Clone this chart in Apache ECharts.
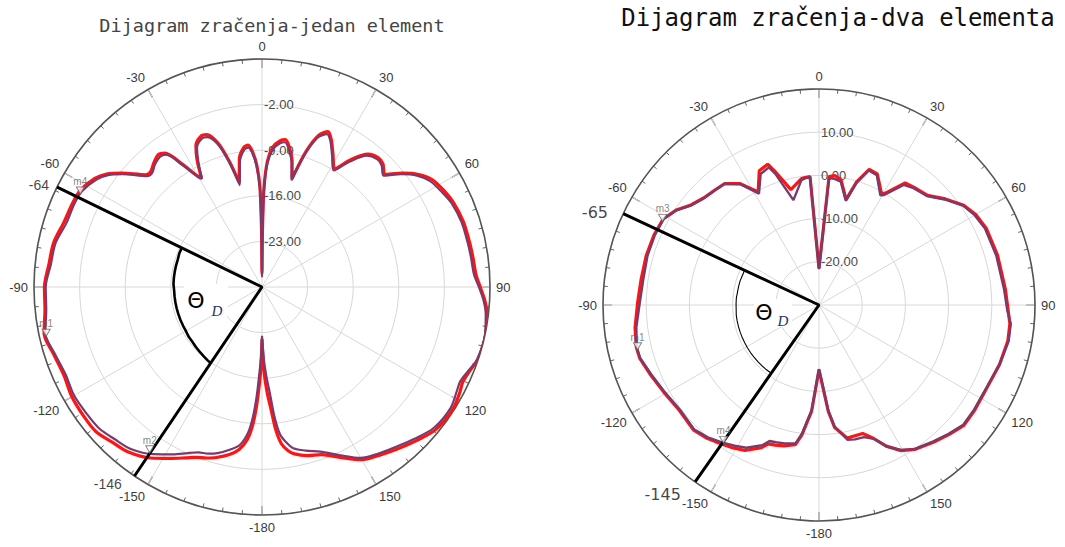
<!DOCTYPE html>
<html><head><meta charset="utf-8">
<script src="https://cdn.jsdelivr.net/npm/echarts@6/dist/echarts.min.js"></script>
<style>html,body{margin:0;padding:0;background:#fff}#c{width:1065px;height:547px}</style>
</head><body><div id="c"></div>
<script>
// ---------- DATA ----------
const titleLeft = 'Dijagram zračenja-jedan element';
const titleRight = 'Dijagram zračenja-dva elementa';

const leftRadialTicks = [-23, -16, -9, -2];
const rightRadialTicks = [-20, -10, 0, 10];

const leftAngles = [
  -180, -179.3, -178.6, -177.3, -176, -174.5, -172, -169, -165, -162,
  -159, -156, -152, -147, -141, -136, -131, -126, -120, -114,
  -108, -102, -96, -90, -84, -78, -72, -66, -62, -57,
  -54, -51, -46, -44, -41, -38, -36, -33, -30, -29,
  -27, -25, -22, -20, -17, -14.5, -12.3, -10, -7.5, -5.6,
  -4, -2.5, -1.2, -0.5, 0, 0.5, 1.2, 2.5, 4.5, 7,
  9, 11, 13.5, 15.5, 18, 20.5, 23, 25, 28, 31.6,
  35, 38.6, 42, 44.5, 47.5, 51, 54.3, 57.8, 62, 66,
  72, 78, 82, 86.6, 90, 93.6, 97, 101.9, 105, 109,
  112, 115.4, 118, 122.7, 129.4, 135, 140.7, 145, 150, 155,
  160.5, 165, 169, 171, 173, 174.5, 175.7, 177.3, 178.6, 180
];
const leftPurple = [
  -22.5, -19.5, -17.7, -13.5, -10, -7.5, -5.5, -4.6, -3.6, -3.1,
  -2.8, -2.1, -0.9, 0.6, 2.0, 2.5, 3.1, 3.2, 3.3, 3.0,
  3.4, 4.0, 3.3, 3.2, 2.6, 2.4, 1.6, 1.5, 1.3, 0.3,
  -0.8, -2.5, -5.5, -5.7, -5.0, -4.6, -4.9, -7.8, -10.6, -11,
  -8.5, -6.4, -5.4, -5.5, -7.2, -10.5, -14, -10.5, -8.8, -8.5,
  -9.5, -11.5, -15, -22, -28.5, -22, -15, -11, -8.8, -7.8,
  -7.5, -8.5, -10.5, -13, -8.5, -5.5, -4.5, -5.2, -7.1, -9,
  -6.5, -4.2, -3.6, -3.8, -4.7, -2.5, -0.7, 0.5, 1.2, 1.8,
  2.2, 2.3, 2.4, 2.6, 3.3, 4.1, 4.6, 5.0, 5.0, 4.8,
  4.2, 3.7, 3.9, 4.4, 4.1, 3.0, 1.9, 1.2, 0.3, -1.5,
  -3.2, -4.0, -4.8, -5.8, -7.2, -10, -13.5, -16.5, -19, -22.5
];
const leftRed = [
  -22, -18, -15.5, -11.5, -8.5, -6.5, -4.8, -3.8, -2.9, -2.4,
  -2.0, -1.3, -0.2, 1.3, 2.6, 3.1, 3.8, 3.8, 3.7, 3.3,
  3.6, 4.2, 3.5, 3.4, 2.9, 2.7, 2.0, 1.8, 1.6, 0.6,
  -0.5, -2.2, -5.2, -5.4, -4.7, -4.2, -4.6, -7.5, -10.4, -10.8,
  -8.0, -6.0, -5.0, -5.1, -6.9, -10.2, -13.6, -10.0, -8.4, -8.1,
  -9.2, -11.2, -14.6, -21, -28, -21, -14.6, -10.6, -8.4, -7.4,
  -7.1, -8.1, -10.2, -12.7, -8.1, -5.1, -4.1, -4.9, -6.8, -8.7,
  -6.1, -3.9, -3.3, -3.5, -4.4, -2.2, -0.4, 0.9, 1.6, 2.1,
  2.5, 2.6, 2.7, 2.9, 3.5, 4.3, 4.8, 5.1, 5.1, 4.9,
  4.4, 4.1, 4.4, 4.8, 4.5, 3.4, 2.3, 1.5, 0.6, -1.1,
  -2.7, -3.2, -3.9, -4.6, -5.8, -8, -11, -14, -17, -22
];

const rightAngles = [
  -180, -176, -172.5, -170.4, -166, -162.6, -160, -158, -153, -149,
  -145, -140, -135, -127, -119.4, -112.6, -106.5, -103, -97, -89.4,
  -81.7, -74, -67, -61, -56.4, -52, -47, -42, -37.8, -33,
  -28.3, -24, -20, -18.4, -13.7, -8, -6.3, -4, 0, 4.5,
  7, 10, 14.4, 17, 20.3, 24, 29.2, 30.6, 35.2, 39,
  44.7, 50, 55.4, 60, 65.3, 74.4, 85.2, 91.6, 95.6, 100.8,
  108.2, 117.6, 124, 129.7, 134.8, 140, 146.5, 150.6, 154.5, 157.7,
  161.2, 165, 168, 172.7, 175, 180
];
const rightPurple = [
  -15.2, -5.5, 0, 2.5, 3.0, 3.3, 3.5, 5.0, 7.1, 8.0,
  8.9, 10.0, 10.8, 10.3, 11.0, 12.0, 13.2, 13.3, 12.6, 11.5,
  11.1, 11.3, 11.3, 11.1, 9.6, 7.5, 6.3, 5.8, 5.5, 3.3,
  -0.7, 3.2, 3.9, 2.0, -5.0, -0.8, -0.5, -0.3, -21.7, -0.5,
  -0.6, -1.0, -5.1, -0.5, 3.2, 2.9, -0.9, -0.4, 4.0, 4.8,
  5.5, 8.0, 10.5, 11.6, 12.3, 12.6, 13.0, 13.6, 14.6, 14.7,
  14.0, 13.2, 13.3, 13.4, 12.3, 11.2, 10.0, 8.5, 6.3, 3.5,
  2.3, 2.2, 1.9, -1.6, -5.5, -15.2
];
const rightRed = [
  -15.0, -5.3, 0.3, 2.8, 3.6, 4.0, 4.2, 5.6, 7.8, 8.6,
  9.3, 10.3, 11.0, 10.5, 11.2, 12.2, 13.3, 13.4, 12.9, 12.0,
  11.6, 11.6, 11.5, 11.2, 9.7, 7.6, 6.4, 5.9, 5.6, 3.5,
  -0.3, 4.0, 4.7, 2.8, -2.5, -0.5, -0.3, -0.2, -21.5, -0.2,
  0.2, -0.6, -4.8, -0.2, 3.5, 3.2, -0.4, 0, 4.6, 5.0,
  5.7, 8.2, 10.7, 11.9, 12.6, 12.9, 13.3, 13.8, 14.4, 14.5,
  14.0, 13.3, 13.5, 13.6, 12.5, 11.4, 10.1, 8.7, 6.2, 3.4,
  1.4, 1.4, 1.5, -1.4, -5.3, -15.0
];

const leftBeamAngles = [-64, -146];
const rightBeamAngles = [-65, -145];

const leftArcAngles = [-64, -68, -72, -76, -80, -84, -88, -92, -96, -100, -104, -108, -112, -116, -120, -124, -128, -132, -136, -140, -143, -146];
const leftArcValues = [-16.3, -16.3, -16.4, -16.4, -16.4, -16.4, -16.4, -16.5, -16.5, -16.5, -16.5, -16.5, -16.5, -16.5, -16.5, -16.4, -16.4, -16.3, -16.2, -16.1, -16.0, -15.9];
const rightArcAngles = [-65, -69, -73, -77, -81, -85, -89, -93, -97, -101, -105, -109, -113, -117, -121, -125, -129, -133, -137, -141, -145];
const rightArcValues = [-11.0, -11.0, -10.9, -10.9, -10.9, -10.8, -10.8, -10.8, -10.7, -10.7, -10.7, -10.7, -10.7, -10.7, -10.7, -10.7, -10.7, -10.7, -10.7, -10.7, -10.7];

const leftMarkerNames = ['m4', 'm1', 'm2'];
const leftMarkerAngles = [-63, -103, -146];
const leftMarkerValues = [1.3, 4.0, 0.8];
const rightMarkerNames = ['m3', 'm1', 'm4'];
const rightMarkerAngles = [-62, -104, -145.5];
const rightMarkerValues = [11.0, 13.3, 9.0];

// ---------- BUILD ----------
const toAxis = a => (a < 0 ? a + 360 : a);
const pairs = (vals, angs) => angs.map((a, i) => [vals[i], toAxis(a)]);

const LEFT = { min: -30, max: 5, interval: 7 };
const RIGHT = { min: -30, max: 20, interval: 10 };

function angleAxisCfg(idx) {
  return {
    polarIndex: idx, type: 'value', min: 0, max: 360, interval: 30,
    startAngle: 90, clockwise: true,
    axisLine: { show: true, lineStyle: { color: '#555', width: 1.6 } },
    axisTick: { show: true, inside: true, length: 9, lineStyle: { color: '#555', width: 1.2 } },
    minorTick: { show: true, splitNumber: 6, length: 4, lineStyle: { color: '#666', width: 1 } },
    axisLabel: {
      show: true, margin: 6, color: '#3a3a3a', fontSize: 13, fontFamily: 'Liberation Sans',
      formatter: v => (v === 360 ? '' : String(v >= 180 ? v - 360 : v))
    },
    splitLine: { show: true, lineStyle: { color: '#d8d8d8', width: 1 } }
  };
}
function radiusAxisCfg(idx, cfg, ticks) {
  return {
    polarIndex: idx, type: 'value', min: cfg.min, max: cfg.max, interval: cfg.interval,
    axisLine: { show: false }, axisTick: { show: false },
    axisLabel: {
      show: true, margin: -2, align: 'left', color: '#4a4a4a', fontSize: 13, fontFamily: 'Liberation Sans',
      formatter: v => (ticks.indexOf(v) >= 0 ? v.toFixed(2) : '')
    },
    splitLine: { show: true, lineStyle: { color: '#d8d8d8', width: 1 } }
  };
}
function curve(idx, vals, angs, color, width, z, smooth) {
  return {
    type: 'line', coordinateSystem: 'polar', polarIndex: idx, data: pairs(vals, angs),
    symbol: 'none', showSymbol: false, silent: true, z: z, smooth: smooth,
    lineStyle: { color: color, width: width }
  };
}
function beam(idx, angs, rmax, rmin) {
  return {
    type: 'line', coordinateSystem: 'polar', polarIndex: idx, clip: false,
    data: [[rmax, toAxis(angs[0])], [rmin, 0], [rmax, toAxis(angs[1])]],
    symbol: 'none', silent: true, z: 8, lineStyle: { color: '#000', width: 3 }
  };
}
function beamLabels(idx, angs, rmax, fontSize, fontFamily, offsets) {
  return {
    type: 'scatter', coordinateSystem: 'polar', polarIndex: idx, clip: false, symbolSize: 1,
    itemStyle: { color: 'rgba(0,0,0,0)' }, silent: true, z: 9,
    data: angs.map((a, i) => ({ value: [rmax, toAxis(a)], label: { offset: offsets[i] } })),
    label: {
      show: true, position: 'left', distance: 4, color: '#111', fontSize: fontSize, fontFamily: fontFamily,
      formatter: p => String(angs[p.dataIndex])
    }
  };
}
function arc(idx, vals, angs, width) {
  return {
    type: 'line', coordinateSystem: 'polar', polarIndex: idx, data: pairs(vals, angs),
    symbol: 'none', silent: true, z: 7, lineStyle: { color: '#000', width: width }
  };
}
function markers(idx, names, angs, vals) {
  return {
    type: 'scatter', coordinateSystem: 'polar', polarIndex: idx, silent: true, z: 10,
    data: names.map((n, i) => ({ name: n, value: [vals[i], toAxis(angs[i])] })),
    symbol: 'triangle', symbolRotate: 180, symbolSize: [8, 7], symbolOffset: [0, -4],
    itemStyle: { color: '#fff', borderColor: '#666', borderWidth: 1 },
    label: { show: true, position: 'top', distance: 0, formatter: '{b}', fontSize: 10, color: '#666', fontFamily: 'Liberation Sans' }
  };
}

const chart = echarts.init(document.getElementById('c'), null, { renderer: 'svg' });
chart.setOption({
  animation: false,
  backgroundColor: '#fff',
  polar: [
    { center: [262, 287], radius: 228 },
    { center: [819, 305], radius: 216 }
  ],
  angleAxis: [angleAxisCfg(0), angleAxisCfg(1)],
  radiusAxis: [radiusAxisCfg(0, LEFT, leftRadialTicks), radiusAxisCfg(1, RIGHT, rightRadialTicks)],
  series: [
    curve(0, leftRed, leftAngles, '#ff1414', 3.2, 3, 0.3),
    curve(0, leftPurple, leftAngles, '#7a3a6c', 2.2, 4, 0.3),
    curve(1, rightRed, rightAngles, '#ff1414', 3.2, 3, false),
    curve(1, rightPurple, rightAngles, '#7a3a6c', 2.4, 4, false),
    arc(0, leftArcValues, leftArcAngles, 2.6),
    arc(1, rightArcValues, rightArcAngles, 1.1),
    beam(0, leftBeamAngles, LEFT.max + 0.6, LEFT.min),
    beam(1, rightBeamAngles, RIGHT.max + 0.7, RIGHT.min),
    beamLabels(0, leftBeamAngles, LEFT.max + 0.6, 14, 'Liberation Sans', [[0, 0], [-6, 5]]),
    beamLabels(1, rightBeamAngles, RIGHT.max + 0.7, 16, 'DejaVu Sans', [[-8, 0], [-8, 10]]),
    markers(0, leftMarkerNames, leftMarkerAngles, leftMarkerValues),
    markers(1, rightMarkerNames, rightMarkerAngles, rightMarkerValues)
  ],
  graphic: [
    { type: 'text', x: 272, y: 25, z: 20, style: { text: titleLeft, fill: '#444', font: '18.5px "DejaVu Sans Mono"', textAlign: 'center', textVerticalAlign: 'middle' } },
    { type: 'text', x: 838, y: 18, z: 20, style: { text: titleRight, fill: '#111', font: '24px "DejaVu Sans Mono"', textAlign: 'center', textVerticalAlign: 'middle' } },
    { type: 'rect', shape: { x: 184, y: 284, width: 44, height: 32 }, z: 20, style: { fill: '#fff' } },
    { type: 'text', x: 196, y: 300, z: 21, style: { text: 'Θ', fill: '#000', font: '22px "DejaVu Sans"', textAlign: 'center', textVerticalAlign: 'middle' } },
    { type: 'text', x: 217, y: 311, z: 21, style: { text: 'D', fill: '#23356b', font: 'italic 15px "Liberation Serif"', textAlign: 'center', textVerticalAlign: 'middle' } },
    { type: 'rect', shape: { x: 754, y: 299, width: 38, height: 28 }, z: 20, style: { fill: '#fff' } },
    { type: 'text', x: 764, y: 312, z: 21, style: { text: 'Θ', fill: '#000', font: '22px "DejaVu Sans"', textAlign: 'center', textVerticalAlign: 'middle' } },
    { type: 'text', x: 783, y: 321, z: 21, style: { text: 'D', fill: '#23356b', font: 'italic 15px "Liberation Serif"', textAlign: 'center', textVerticalAlign: 'middle' } }
  ]
});
</script>
</body></html>
